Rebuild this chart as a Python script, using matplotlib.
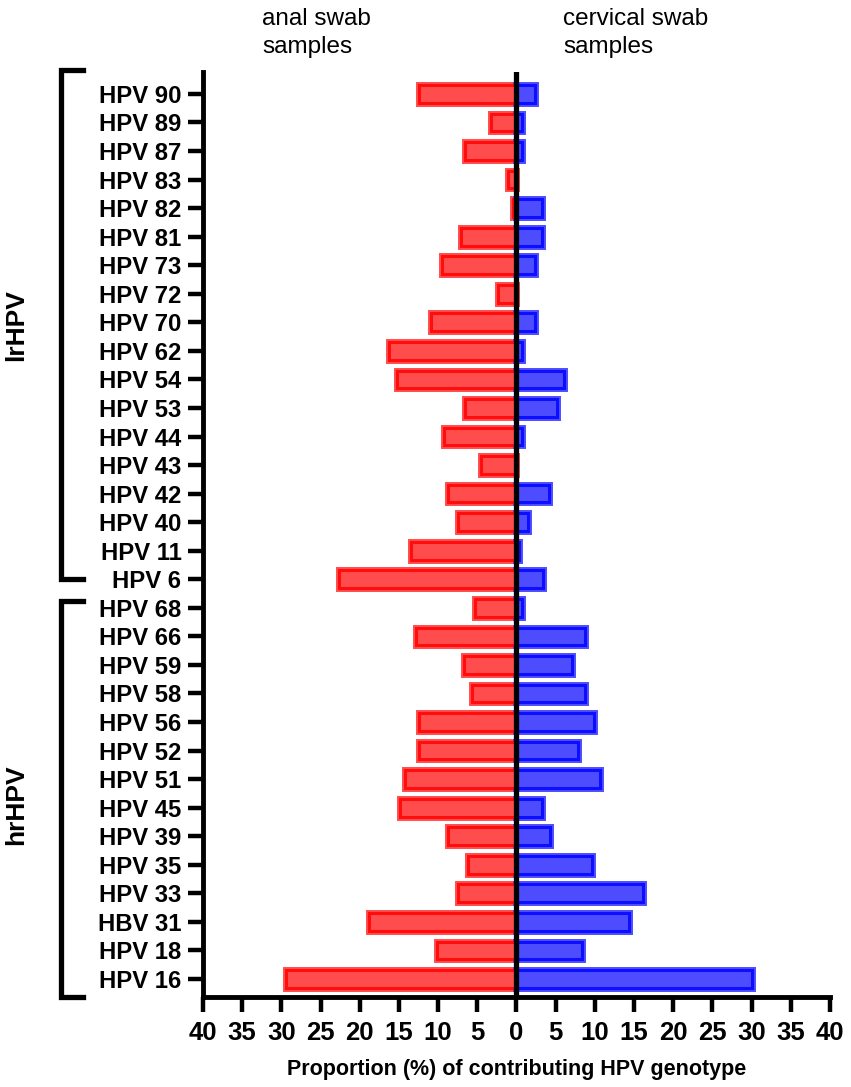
import matplotlib.pyplot as plt
from matplotlib.lines import Line2D
import numpy as np

plt.rcParams['font.family'] = ['Liberation Sans', 'DejaVu Sans']

# 上から順
genotypes = ['HPV 90', 'HPV 89', 'HPV 87', 'HPV 83', 'HPV 82', 'HPV 81', 'HPV 73', 'HPV 72',
             'HPV 70', 'HPV 62', 'HPV 54', 'HPV 53', 'HPV 44', 'HPV 43', 'HPV 42', 'HPV 40',
             'HPV 11', 'HPV 6', 'HPV 68', 'HPV 66', 'HPV 59', 'HPV 58', 'HPV 56', 'HPV 52',
             'HPV 51', 'HPV 45', 'HPV 39', 'HPV 35', 'HPV 33', 'HBV 31', 'HPV 18', 'HPV 16']
anal = [12.4, 3.3, 6.6, 1.1, 0.5, 7.1, 9.5, 2.3,
        10.9, 16.3, 15.2, 6.6, 9.2, 4.5, 8.8, 7.5,
        13.4, 22.7, 5.3, 12.8, 6.7, 5.7, 12.5, 12.5,
        14.2, 14.9, 8.7, 6.2, 7.4, 18.8, 10.2, 29.4]
cervical = [2.4, 0.7, 0.7, 0.0, 3.3, 3.3, 2.4, 0.0,
            2.4, 0.7, 6.1, 5.2, 0.7, 0.0, 4.2, 1.5,
            0.3, 3.4, 0.7, 8.8, 7.1, 8.8, 9.9, 7.9,
            10.6, 3.3, 4.3, 9.7, 16.2, 14.3, 8.4, 30.0]
xticks = np.arange(-40, 41, 5)

n = len(genotypes)
y = np.arange(n)[::-1]
anal = np.array(anal)
cervical = np.array(cervical)

fig = plt.figure(figsize=(8.51, 10.87), dpi=100)
ax = fig.add_axes([0.2385, 0.0831, 0.7368, 0.8507])

h = 0.62
def draw_bars(vals, sign, light, dark):
    m = vals > 0
    ax.barh(y[m], sign * vals[m], height=h, color=light, edgecolor=light, linewidth=5, zorder=2)
    ax.barh(y[m], sign * vals[m], height=h, color=light, edgecolor=dark, linewidth=2.2, zorder=3)

draw_bars(anal, -1, '#ff4d4d', '#ff0d0d')
draw_bars(cervical, 1, '#4d4dff', '#0d0dff')

ax.axvline(0, color='black', linewidth=3.8, zorder=4)

ax.set_xlim(-40, 40)
ax.set_ylim(-0.62, 31.77)
ax.set_xticks(xticks)
ax.set_xticklabels([str(abs(t)) for t in xticks], fontsize=18.5, fontweight='bold')
ax.set_yticks(y)
ax.set_yticklabels(genotypes, fontsize=17.2, fontweight='bold')
ax.tick_params(axis='both', length=10.5, width=3.2, pad=5)
ax.tick_params(axis='x', pad=7)
for s in ['top', 'right']:
    ax.spines[s].set_visible(False)
for s in ['left', 'bottom']:
    ax.spines[s].set_linewidth(3.5)
ax.set_xlabel('Proportion (%) of contributing HPV genotype', fontsize=15.5, fontweight='bold', labelpad=10)

# 上のラベル
fig.text(262/851, 1 - 33/1087, 'anal swab\nsamples', fontsize=17.5, ha='left', va='center', linespacing=1.3)
fig.text(563/851, 1 - 33/1087, 'cervical swab\nsamples', fontsize=17.5, ha='left', va='center', linespacing=1.3)

# 括弧
def px(xp, yp):
    return xp / 851, 1 - yp / 1087

def bracket(y0, y1, label, ymid):
    xs = [83, 61, 61, 83]
    ys = [y0, y0, y1, y1]
    fx = [px(a, b)[0] for a, b in zip(xs, ys)]
    fy = [px(a, b)[1] for a, b in zip(xs, ys)]
    fig.add_artist(Line2D(fx, fy, color='black', linewidth=3.8, solid_joinstyle='miter'))
    fig.text(16/851, 1 - ymid/1087, label, rotation=90, fontsize=19, fontweight='bold',
             ha='center', va='center')

bracket(70, 579, 'lrHPV', 325)
bracket(601, 997, 'hrHPV', 805)

plt.savefig('out.png', dpi=100)
